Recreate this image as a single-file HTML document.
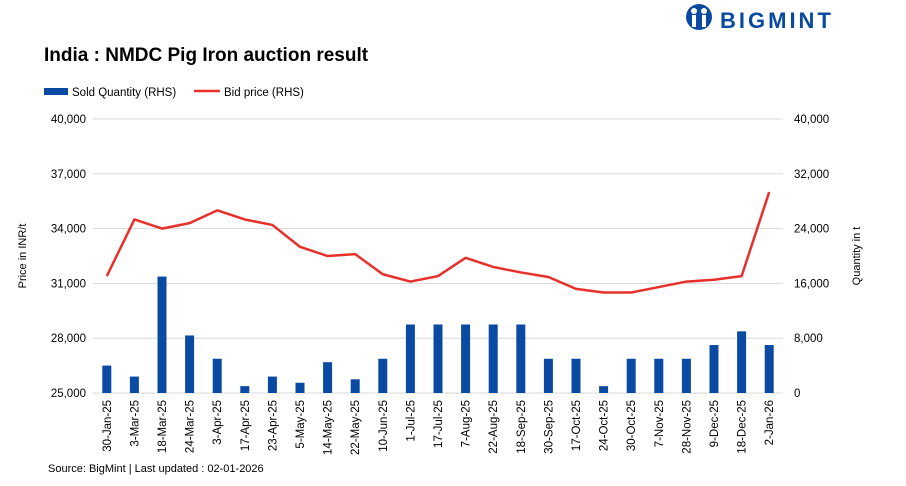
<!DOCTYPE html>
<html><head><meta charset="utf-8"><style>
body{margin:0;background:#fff;font-family:"Liberation Sans",sans-serif;}
svg text{font-family:"Liberation Sans",sans-serif;}
</style></head><body>
<svg id="c" width="906" height="481" xmlns="http://www.w3.org/2000/svg">
<g>
<circle cx="699" cy="17" r="13" fill="#0b4aa2"/>
<circle cx="694" cy="11" r="3" fill="#fff"/><circle cx="704" cy="11" r="3" fill="#fff"/>
<rect x="692" y="15" width="4" height="12" fill="#fff"/><rect x="702" y="15" width="4" height="12" fill="#fff"/>
<text x="720" y="28" font-size="22" font-weight="bold" fill="#0b4aa2" letter-spacing="3">BIGMINT</text>
</g>
<text x="44" y="61" font-size="19" font-weight="bold" fill="#000">India : NMDC Pig Iron auction result</text>
<g>
<rect x="44" y="88" width="24" height="7" fill="#0b4aa2"/>
<text x="72" y="96" font-size="11.5" fill="#000">Sold Quantity (RHS)</text>
<line x1="194" y1="91" x2="220" y2="91" stroke="#e8302a" stroke-width="2.5"/>
<text x="224" y="96" font-size="11.5" fill="#000">Bid price (RHS)</text>
</g>
<g id="grid"></g><g id="bars"></g><g id="line"></g><g id="axes"></g>
<text transform="translate(26,256) rotate(-90)" text-anchor="middle" font-size="11" fill="#000">Price in INR/t</text>
<text transform="translate(860,256) rotate(-90)" text-anchor="middle" font-size="11" fill="#000">Quantity in t</text>
<text x="48" y="472" font-size="11" fill="#000">Source: BigMint | Last updated : 02-01-2026</text>
</svg>
<script>
const categories=["30-Jan-25","3-Mar-25","18-Mar-25","24-Mar-25","3-Apr-25","17-Apr-25","23-Apr-25","5-May-25","14-May-25","22-May-25","10-Jun-25","1-Jul-25","17-Jul-25","7-Aug-25","22-Aug-25","18-Sep-25","30-Sep-25","17-Oct-25","24-Oct-25","30-Oct-25","7-Nov-25","28-Nov-25","9-Dec-25","18-Dec-25","2-Jan-26"];
const soldQty=[4000,2400,17000,8400,5000,1000,2400,1500,4500,2000,5000,10000,10000,10000,10000,10000,5000,5000,1000,5000,5000,5000,7000,9000,7000];
const bidPrice=[31400,34500,34000,34300,35000,34500,34200,33000,32500,32600,31500,31100,31400,32400,31900,31600,31350,30700,30500,30500,30800,31100,31200,31400,36000];
const leftTicks=[25000,28000,31000,34000,37000,40000];
const rightTicks=[0,8000,16000,24000,32000,40000];
const NS="http://www.w3.org/2000/svg";
const plotTop=119,plotBot=393,plotX0=93,plotX1=783;
const yL=v=>plotBot-(v-25000)/15000*(plotBot-plotTop);
const yR=v=>plotBot-v/40000*(plotBot-plotTop);
const step=(plotX1-plotX0)/categories.length;
const xC=i=>plotX0+step*(i+0.5);
function mk(t,a,p){const e=document.createElementNS(NS,t);for(const k in a)e.setAttribute(k,a[k]);document.getElementById(p).appendChild(e);return e;}
leftTicks.forEach(v=>{
 const g=mk('line',{x1:plotX0,x2:plotX1,y1:yL(v),y2:yL(v),stroke:'#d9d9d9','stroke-width':1},'grid');
 
 
 const t=mk('text',{x:86,y:yL(v)+4,'text-anchor':'end','font-size':11.5,fill:'#000'},'axes');t.textContent=v.toLocaleString('en-US');
 
 
});
rightTicks.forEach(v=>{
 const t=mk('text',{x:794,y:yR(v)+4,'font-size':11.5,fill:'#000'},'axes');t.textContent=v.toLocaleString('en-US');
 
 
});
soldQty.forEach((v,i)=>{
 const b=mk('rect',{x:xC(i)-4.5,y:yR(v),width:9,height:plotBot-yR(v),fill:'#0b4aa2'},'bars');
 
 
});
const p=mk('polyline',{points:bidPrice.map((v,i)=>xC(i)+','+yL(v)).join(' '),fill:'none',stroke:'#e8302a','stroke-width':2.5,'stroke-linejoin':'round'},'line');


categories.forEach((c,i)=>{
 const t=mk('text',{transform:`translate(${xC(i)+4},400) rotate(-90)`,'text-anchor':'end','font-size':11.5,fill:'#000'},'axes');t.textContent=c;
 
 
});
</script>
</body></html>
